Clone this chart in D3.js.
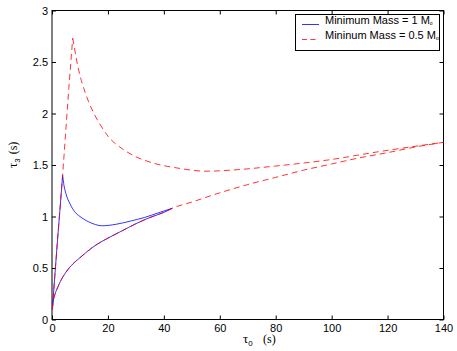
<!DOCTYPE html>
<html>
<head>
<meta charset="utf-8">
<script src="https://cdn.jsdelivr.net/npm/d3@7"></script>
<style>
  body { margin: 0; background: #fff; }
  svg { display: block; }
  .tick text { font-family: "Liberation Sans", Arial, sans-serif; font-size: 11px; fill: #000; }
</style>
</head>
<body>
<svg width="457" height="351"></svg>
<script>
var svg = d3.select("svg"),
    width = +svg.attr("width"),
    height = +svg.attr("height");

// tick values
var xTicks = [0, 20, 40, 60, 80, 100, 120, 140];
var yTicks = [0, 0.5, 1, 1.5, 2, 2.5, 3];

// minimum mass = 1 Msun (blue)
var blueRiseTau0 = [0.12, 1, 2, 3, 3.8];
var blueRiseTau3 = [0.10, 0.42, 0.78, 1.12, 1.40];
var blueTopTau0 = [3.8, 4.3, 5, 6.5, 8, 10, 13, 18, 23, 28, 33, 38, 43];
var blueTopTau3 = [1.40, 1.30, 1.22, 1.12, 1.05, 1.00, 0.95, 0.91, 0.925, 0.955, 0.99, 1.035, 1.08];
var blueLowTau0 = [0.12, 0.3, 0.6, 1, 2, 3, 5, 7.5, 10, 15, 20, 25, 30, 35, 40, 43];
var blueLowTau3 = [0.10, 0.15, 0.20, 0.24, 0.31, 0.37, 0.46, 0.54, 0.60, 0.71, 0.79, 0.86, 0.93, 0.99, 1.04, 1.08];

// minimum mass = 0.5 Msun (red dashed)
var redRiseTau0 = [0.12, 1, 2, 3, 3.8, 5, 6, 7.4];
var redRiseTau3 = [0.10, 0.42, 0.78, 1.12, 1.40, 1.86, 2.24, 2.73];
var redTopTau0 = [7.4, 8, 9, 10, 11.3, 13, 15, 17.5, 20, 25, 30, 36, 45, 55, 64, 80, 99, 117, 140];
var redTopTau3 = [2.73, 2.64, 2.49, 2.37, 2.25, 2.12, 2.00, 1.88, 1.78, 1.66, 1.58, 1.52, 1.47, 1.44, 1.45, 1.49, 1.55, 1.63, 1.72];
var redLowTau0 = [0.12, 0.3, 0.6, 1, 2, 3, 5, 7.5, 10, 15, 20, 25, 30, 35, 40, 43, 50, 60, 70, 80, 90, 100, 110, 120, 130, 140];
var redLowTau3 = [0.10, 0.15, 0.20, 0.24, 0.31, 0.37, 0.46, 0.54, 0.60, 0.71, 0.79, 0.86, 0.93, 0.99, 1.04, 1.08, 1.14, 1.23, 1.31, 1.38, 1.45, 1.51, 1.57, 1.62, 1.675, 1.72];

var legendLabels = ["Minimum Mass = 1 M", "Mininum Mass = 0.5 M"];

var x = d3.scaleLinear().domain([0, 140]).range([52, 443.5]);
var y = d3.scaleLinear().domain([0, 3]).range([319.5, 10.5]);

function pts(a, b) { return a.map((d, i) => [d, b[i]]); }

var lineLin = d3.line().x(d => x(d[0])).y(d => y(d[1]));
var lineSmooth = d3.line().x(d => x(d[0])).y(d => y(d[1])).curve(d3.curveMonotoneX);

// axes, ticks inside on all four sides
var fmt = d => String(d);
svg.append("g").attr("transform", "translate(0," + y(0) + ")")
    .call(d3.axisBottom(x).tickValues(xTicks).tickSize(-4).tickPadding(5).tickFormat(fmt));
svg.append("g").attr("transform", "translate(" + x(0) + ",0)")
    .call(d3.axisLeft(y).tickValues(yTicks).tickSize(-4).tickPadding(4).tickFormat(fmt));
svg.append("g").attr("transform", "translate(0," + y(3) + ")")
    .call(d3.axisTop(x).tickValues(xTicks).tickSize(-4).tickFormat(""));
svg.append("g").attr("transform", "translate(" + x(140) + ",0)")
    .call(d3.axisRight(y).tickValues(yTicks).tickSize(-4).tickFormat(""));
svg.selectAll(".domain").remove();
svg.selectAll(".tick line").attr("stroke", "#000");

svg.append("rect")
    .attr("x", x(0)).attr("y", y(3))
    .attr("width", x(140) - x(0)).attr("height", y(0) - y(3))
    .attr("fill", "none").attr("stroke", "#000").attr("stroke-width", 1);

// curves
var curves = svg.append("g").attr("fill", "none").attr("stroke-width", 0.8);
curves.append("path").attr("d", lineLin(pts(blueRiseTau0, blueRiseTau3)))
    .attr("stroke", "#0000ff");
curves.append("path").attr("d", lineSmooth(pts(blueTopTau0, blueTopTau3)))
    .attr("stroke", "#0000ff");
curves.append("path").attr("d", lineSmooth(pts(blueLowTau0, blueLowTau3)))
    .attr("stroke", "#0000ff");

curves.append("path").attr("d", lineLin(pts(redRiseTau0, redRiseTau3)))
    .attr("stroke", "#ff0000").attr("stroke-dasharray", "6,4");
curves.append("path").attr("d", lineSmooth(pts(redTopTau0, redTopTau3)))
    .attr("stroke", "#ff0000").attr("stroke-dasharray", "6,4");
curves.append("path").attr("d", lineSmooth(pts(redLowTau0, redLowTau3)))
    .attr("stroke", "#ff0000").attr("stroke-dasharray", "6,4");

// legend
var legend = svg.append("g");
legend.append("rect")
    .attr("x", 295.5).attr("y", 14.5).attr("width", 144).attr("height", 36)
    .attr("fill", "#fff").attr("stroke", "#000");
legend.append("line").attr("x1", 302).attr("x2", 319).attr("y1", 24.5).attr("y2", 24.5)
    .attr("stroke", "#0000ff").attr("stroke-width", 0.8);
legend.append("line").attr("x1", 302).attr("x2", 319).attr("y1", 39.5).attr("y2", 39.5)
    .attr("stroke", "#ff0000").attr("stroke-width", 0.8).attr("stroke-dasharray", "5,3.5");
legendLabels.forEach((t, i) => {
    var tx = legend.append("text")
        .attr("x", 325).attr("y", 24 + i * 14.7)
        .style("font-family", "'Liberation Sans', Arial, sans-serif")
        .style("font-size", "11px")
        .text(t);
    tx.append("tspan").attr("dy", 1).style("font-size", "5px").text("o");
});

// axis labels
var xl = svg.append("text")
    .attr("x", 243).attr("y", 343)
    .style("font-family", "'Liberation Serif', 'Times New Roman', serif")
    .style("font-size", "13px");
xl.append("tspan").text("τ");
xl.append("tspan").attr("dy", 3).style("font-size", "8px")
    .style("font-family", "'Liberation Sans', Arial, sans-serif").text("0");
xl.append("tspan").attr("dy", -3).attr("x", 263).style("font-size", "12px").text("(s)");

var yl = svg.append("text")
    .attr("transform", "translate(17,168) rotate(-90)")
    .style("font-family", "'Liberation Serif', 'Times New Roman', serif")
    .style("font-size", "13px");
yl.append("tspan").text("τ");
yl.append("tspan").attr("dy", 3).style("font-size", "8px")
    .style("font-family", "'Liberation Sans', Arial, sans-serif").text("3");
yl.append("tspan").attr("dy", -3).attr("dx", 4).style("font-size", "12px").text("(s)");
</script>
</body>
</html>
